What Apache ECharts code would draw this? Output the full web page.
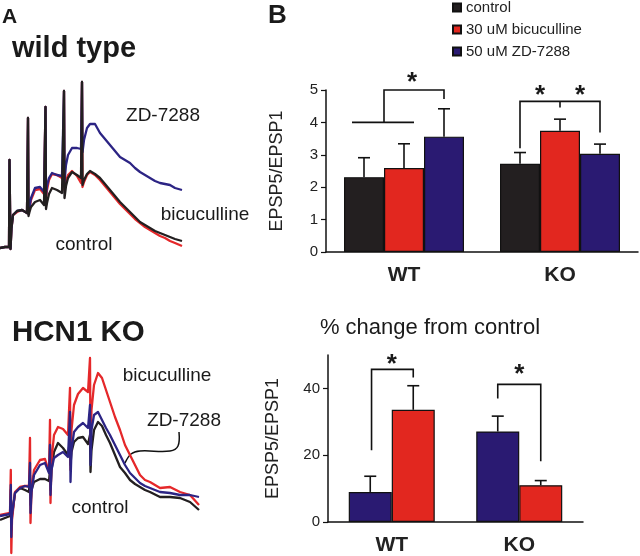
<!DOCTYPE html>
<html>
<head>
<meta charset="utf-8">
<script src="https://cdn.jsdelivr.net/npm/echarts@6.0.0/dist/echarts.min.js"></script>
<style>
html,body{margin:0;padding:0;background:#fff;}
#main{width:640px;height:556px;}
</style>
</head>
<body>
<div id="main"></div>
<script>
// ---- A: wild type traces (time, response in a.u.) ----
var wtTime = [0,5,9,9.5,10.5,11.5,13,17,22,27, 28,28.5,29.5,31,35,40,44,45.5,46,47,
    49,52,57,62,63.5,64,64.5,66,68,72, 77,81,82,82.5,84,87,90,95,100,105,
    110,115,120,125,130,135,140,145,150,155, 160,165,170,175,182];
var wtControl = [2,3,3,90,1,22,35,39,40,37, 132,34,38,43,48,50,45,143,41,47,
    56,62,60,57,56,159,52,64,72,78, 75,72,168,65,70,76,79,76,72,66,
    60,54,48,43,38,33,28,25,22,19, 17,15,13,11,9];
var wtBicuculline = [2,3,3,90,1,22,35,38,40,37, 132,36,42,50,60,61,56,143,52,60,
    70,76,75,72,69,159,60,69,75,79, 74,67,168,63,68,75,78,75,70,64,
    58,52,46,41,36,31,27,23,20,17, 14,12,9,7,4];
var wtZD = [2,3,3,90,1,22,35,39,40,37, 132,36,43,52,62,63,58,143,54,64,
    72,77,75,74,72,159,68,85,95,102, 102,101,168,98,110,122,126,126,117,111,
    105,99,93,90,87,82,78,75,72,69, 67,66,65,62,60];

// ---- A: HCN1 KO traces ----
var koTime = [0,5,10,10.8,11.3,12,15,20,25,29, 30,30.5,31.5,34,40,45,49,50,50.5,51.5,
    54,58,63,68,70,70.5,71.5,74,78,83, 88,90,90.5,91.5,94,98,102,106,110,115,
    120,125,130,135,140,145,150,160,170,180, 190,199];
var koControl = [0,2,4,30,-10,5,27,32,30,28, 45,15,30,38,41,41,39,50,30,50,
    68,77,72,65,80,55,68,78,82,83, 76,85,48,70,90,98,94,85,77,65,
    53,47,40,36,33,30,28,23,23,22, 18,10];
var koBicuculline = [5,6,7,50,-33,0,28,33,34,34, 82,-3,30,50,60,61,48,100,17,60,
    85,93,91,85,132,50,90,115,126,132, 128,162,75,110,135,147,142,130,118,103,
    90,75,65,55,45,40,38,32,33,28, 25,15];
var koZD = [4,5,6,35,-17,5,27,32,34,33, 57,7,28,45,55,57,47,75,25,50,
    62,65,68,63,108,38,70,88,93,97, 92,115,55,90,105,108,100,92,85,75,
    65,55,47,42,37,34,32,28,27,25, 25,23];

// ---- B: EPSP5/EPSP1 ----
var groups = ['WT', 'KO'];
var ratioControl = [2.31, 2.72];
var ratioControlErr = [0.6, 0.35];
var ratioBic = [2.59, 3.74];
var ratioBicErr = [0.75, 0.36];
var ratioZD = [3.56, 3.03];
var ratioZDErr = [0.86, 0.3];
var ratioTicks = [0, 1, 2, 3, 4, 5];

// ---- B: % change from control ----
var changeZD = [9.0, 27.1];
var changeZDErr = [4.7, 4.6];
var changeBic = [33.6, 11.0];
var changeBicErr = [7.2, 1.4];
var changeTicks = [0, 20, 40];

var FONT = '"Liberation Sans", Arial, sans-serif';
var BLACK = '#231f20', RED = '#e2271f', BLUE = '#2a1a72';
var T_RED = '#e5282a', T_BLUE = '#2c2484';

function pairs(t, v){
    var out = [];
    for(var i = 0; i < t.length; i++){
        out.push([t[i], v[i]]);
    }
    return out;
}

function traceSeries(name, idx, t, v, color, z){
    return {
        name: name, type: 'line', xAxisIndex: idx, yAxisIndex: idx,
        data: pairs(t, v), symbol: 'none', silent: true, z: z,
        lineStyle: {color: color, width: 2.3, join: 'round'}
    };
}

function barSeries(name, idx, values, color, width){
    return {
        name: name, type: 'bar', xAxisIndex: idx, yAxisIndex: idx,
        data: values, barWidth: width, barGap: '0%', z: 3,
        itemStyle: {color: color, borderColor: '#111', borderWidth: 1.2}
    };
}

//误差线, offset = 柱子相对类目中心的偏移(px)
function errorSeries(idx, means, errs, offset){
    var data = [];
    for(var i = 0; i < means.length; i++){
        data.push([i, means[i], errs[i]]);
    }
    return {
        type: 'custom', xAxisIndex: idx, yAxisIndex: idx, data: data, z: 2,
        encode: {x: 0, y: 1}, silent: true,
        renderItem: function(params, api){
            var base = api.coord([api.value(0), api.value(1)]);
            var top = api.coord([api.value(0), api.value(1) + api.value(2)]);
            var x = base[0] + offset;
            var st = {stroke: '#111', lineWidth: 1.6};
            return {type: 'group', children: [
                {type: 'line', shape: {x1: x, y1: base[1], x2: x, y2: top[1]}, style: st},
                {type: 'line', shape: {x1: x - 6, y1: top[1], x2: x + 6, y2: top[1]}, style: st}
            ]};
        }
    };
}

function hiddenAxis(idx, min, max){
    return {type: 'value', gridIndex: idx, min: min, max: max, show: false};
}

function catAxis(idx){
    return {
        type: 'category', gridIndex: idx, data: groups,
        axisLine: {lineStyle: {color: '#111', width: 1.5}},
        axisTick: {show: false},
        axisLabel: {fontSize: 21, fontWeight: 'bold', color: '#222', fontFamily: FONT, margin: 13}
    };
}

function valAxis(idx, max, interval, ticks, gap){
    return {
        type: 'value', gridIndex: idx, min: 0, max: max, interval: interval,
        name: 'EPSP5/EPSP1', nameLocation: 'middle', nameGap: gap,
        nameTextStyle: {fontSize: 18, color: '#222', fontFamily: FONT},
        splitLine: {show: false},
        axisLine: {show: true, lineStyle: {color: '#111', width: 1.5}},
        axisTick: {show: true, length: 5, customValues: ticks, lineStyle: {width: 1.2}},
        axisLabel: {fontSize: 15, color: '#222', fontFamily: FONT, margin: 8, customValues: ticks}
    };
}

var chart = echarts.init(document.getElementById('main'));
var option = {
    animation: false,
    backgroundColor: '#fff',
    textStyle: {fontFamily: FONT},
    grid: [
        {left: 0, top: 80, width: 185, height: 172, outerBoundsMode: 'none'},
        {left: 0, top: 355, width: 200, height: 201, outerBoundsMode: 'none'},
        {left: 326, top: 90, width: 312, height: 162, outerBoundsMode: 'none'},
        {left: 328, top: 355, width: 255, height: 167, outerBoundsMode: 'none'}
    ],
    xAxis: [hiddenAxis(0, 0, 185), hiddenAxis(1, 0, 200), catAxis(2), catAxis(3)],
    yAxis: [hiddenAxis(0, -2, 170), hiddenAxis(1, -36, 165),
        valAxis(2, 5, 1, ratioTicks, 40), valAxis(3, 50, 10, changeTicks, 46)],
    legend: {
        data: ['control', '30 uM bicuculline', '50 uM ZD-7288'],
        orient: 'vertical', left: 452, top: 0, padding: 0,
        itemWidth: 8, itemHeight: 8, itemGap: 7, icon: 'rect', selectedMode: false,
        textStyle: {fontSize: 15, color: '#222', fontFamily: FONT}
    },
    series: [
        traceSeries('wt bic', 0, wtTime, wtBicuculline, T_RED, 2),
        traceSeries('wt zd', 0, wtTime, wtZD, T_BLUE, 3),
        traceSeries('wt ctrl', 0, wtTime, wtControl, BLACK, 4),
        traceSeries('ko ctrl', 1, koTime, koControl, BLACK, 2),
        traceSeries('ko bic', 1, koTime, koBicuculline, T_RED, 3),
        traceSeries('ko zd', 1, koTime, koZD, T_BLUE, 4),
        barSeries('control', 2, ratioControl, BLACK, 40),
        barSeries('30 uM bicuculline', 2, ratioBic, RED, 40),
        barSeries('50 uM ZD-7288', 2, ratioZD, BLUE, 40),
        errorSeries(2, ratioControl, ratioControlErr, -40),
        errorSeries(2, ratioBic, ratioBicErr, 0),
        errorSeries(2, ratioZD, ratioZDErr, 40),
        barSeries('ZD change', 3, changeZD, BLUE, 43),
        barSeries('bic change', 3, changeBic, RED, 43),
        errorSeries(3, changeZD, changeZDErr, -21.5),
        errorSeries(3, changeBic, changeBicErr, 21.5)
    ]
};
chart.setOption(option);

// ---- 显著性标记: [类目, [[柱宽偏移, 数值], ...]] ----
var topBrackets = [
    ['WT', [[-1.3, 4], [0.25, 4]]],
    ['WT', [[-0.5, 4], [-0.5, 5], [1, 5], [1, 4.72]]],
    ['KO', [[-1, 3.2], [-1, 4.65], [1, 4.65], [1, 3.69]]],
    ['KO', [[0, 4.65], [0, 4.46]]]
];
var topStars = [['WT', 0.2, 5.45], ['KO', -0.5, 5.05], ['KO', 0.5, 5.05]];
var bottomBrackets = [
    ['WT', [[-0.47, 21.5], [-0.47, 45.7], [0.5, 45.7], [0.5, 43.3]]],
    ['KO', [[-0.5, 37], [-0.5, 41.2], [0.5, 41.2], [0.5, 18.2]]]
];
var bottomStars = [['WT', 0, 49.3], ['KO', 0, 46.3]];

function toPx(idx, cat, off, val, barW){
    var c = chart.convertToPixel({xAxisIndex: idx, yAxisIndex: idx}, [cat, val]);
    return [c[0] + off * barW, c[1]];
}

function text(str, x, y, size, bold, align){
    return {
        type: 'text', x: x, y: y, silent: true,
        style: {
            text: str, fill: '#1a1a1a', align: align || 'center', verticalAlign: 'middle',
            font: (bold ? 'bold ' : '') + size + 'px ' + FONT
        }
    };
}

var graphics = [
    text('A', 2, 17.5, 21, true, 'left'),
    text('wild type', 12, 48.5, 29, true, 'left'),
    text('HCN1 KO', 12, 333, 29.5, true, 'left'),
    text('B', 268, 16, 26, true, 'left'),
    text('ZD-7288', 163, 116, 19),
    text('bicuculline', 205, 215, 19),
    text('control', 84, 245, 19),
    text('bicuculline', 167, 376, 19),
    text('ZD-7288', 184, 421, 19),
    text('control', 100, 508, 19),
    text('% change from control', 430, 327.5, 22),
    {
        type: 'polyline', silent: true,
        shape: {points: [[179, 432], [178, 446], [170, 451], [140, 451], [131, 454], [125, 463]], smooth: 0.35},
        style: {stroke: '#111', lineWidth: 1.5, fill: null}
    }
];

function addBrackets(idx, barW, list){
    list.forEach(function(b){
        var pts = b[1].map(function(p){ return toPx(idx, b[0], p[0], p[1], barW); });
        graphics.push({type: 'polyline', silent: true, shape: {points: pts},
            style: {stroke: '#111', lineWidth: 1.6, fill: null}});
    });
}
function addStars(idx, barW, list){
    list.forEach(function(s){
        var p = toPx(idx, s[0], s[1], s[2], barW);
        graphics.push(text('*', p[0], p[1] + 7, 26, true));
    });
}
addBrackets(2, 40, topBrackets);
addStars(2, 40, topStars);
addBrackets(3, 43, bottomBrackets);
addStars(3, 43, bottomStars);

chart.setOption({graphic: graphics});
</script>
</body>
</html>
